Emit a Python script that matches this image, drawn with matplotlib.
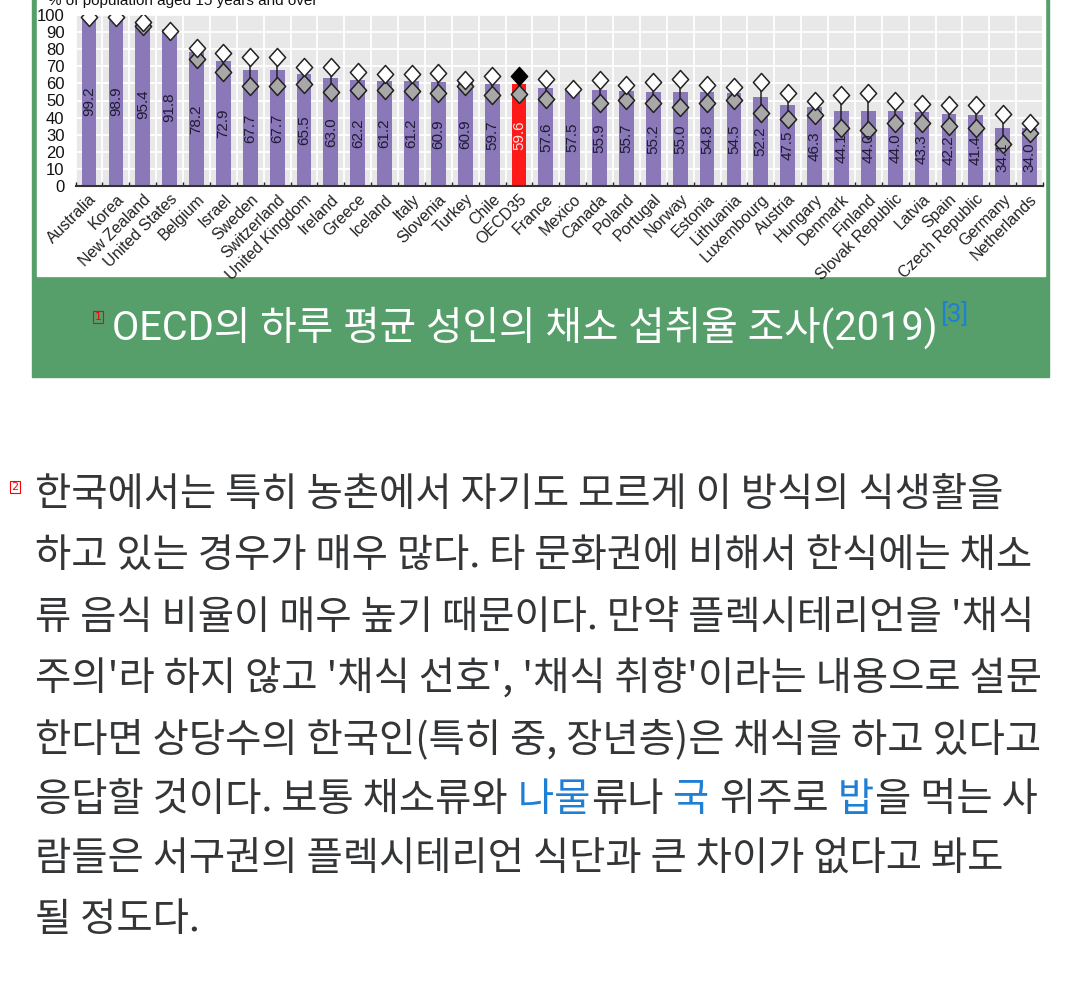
import numpy as np
import matplotlib
matplotlib.use('Agg')
import matplotlib.pyplot as plt
from matplotlib.patches import Rectangle
from matplotlib.path import Path

# data
countries = ['Australia', 'Korea', 'New Zealand', 'United States', 'Belgium', 'Israel',
             'Sweden', 'Switzerland', 'United Kingdom', 'Ireland', 'Greece', 'Iceland',
             'Italy', 'Slovenia', 'Turkey', 'Chile', 'OECD35', 'France', 'Mexico', 'Canada',
             'Poland', 'Portugal', 'Norway', 'Estonia', 'Lithuania', 'Luxembourg', 'Austria',
             'Hungary', 'Denmark', 'Finland', 'Slovak Republic', 'Latvia', 'Spain',
             'Czech Republic', 'Germany', 'Netherlands']
total = [99.2, 98.9, 95.4, 91.8, 78.2, 72.9, 67.7, 67.7, 65.5, 63.0, 62.2, 61.2,
         61.2, 60.9, 60.9, 59.7, 59.6, 57.6, 57.5, 55.9, 55.7, 55.2, 55.0, 54.8,
         54.5, 52.2, 47.5, 46.3, 44.1, 44.0, 44.0, 43.3, 42.2, 41.4, 34.1, 34.0]
upper = [98.8, 98.8, 96.0, 90.8, 80.9, 77.6, 75.2, 75.2, 69.4, 69.4, 66.9, 65.5,
         65.5, 66.0, 62.0, 64.5, 64.5, 62.6, 56.7, 62.0, 59.0, 60.6, 62.6, 59.0,
         57.7, 60.6, 54.2, 49.9, 53.2, 54.2, 49.9, 48.0, 47.4, 47.4, 42.1, 36.7]
lower = [np.nan, np.nan, 93.6, np.nan, 74.0, 66.9, 58.7, 58.7, 59.5, 55.2, 56.1, 56.1,
         55.7, 54.6, 58.5, 53.2, 53.6, 50.7, np.nan, 48.4, 50.3, 48.4, 46.0, 48.7,
         50.3, 42.5, 39.2, 41.5, 34.1, 32.7, 37.0, 36.6, 35.1, 33.7, 24.6, 30.8]
highlight = 'OECD35'

caption = 'OECD의 하루 평균 성인의 채소 섭취율 조사(2019)'
body_lines = [
    [('한국에서는 특히 농촌에서 자기도 모르게 이 방식의 식생활을', 'k')],
    [('하고 있는 경우가 매우 많다. 타 문화권에 비해서 한식에는 채소', 'k')],
    [("류 음식 비율이 매우 높기 때문이다. 만약 플렉시테리언을 '채식", 'k')],
    [("주의'라 하지 않고 '채식 선호', '채식 취향'이라는 내용으로 설문", 'k')],
    [('한다면 상당수의 한국인(특히 중, 장년층)은 채식을 하고 있다고', 'k')],
    [('응답할 것이다. 보통 채소류와', 'k'), (' 나물', 'b'), ('류나', 'k'), (' 국', 'b'),
     (' 위주로', 'k'), (' 밥', 'b'), ('을 먹는 사', 'k')],
    [('람들은 서구권의 플렉시테리언 식단과 큰 차이가 없다고 봐도', 'k')],
    [('될 정도다.', 'k')],
]

W, H = 1080, 982
GREEN = '#569e6a'
PURPLE = '#8b78b8'
TEXT = '#333537'
LINK = '#1f7fd4'


def fx(x):
    return x / W


def fy(y):
    return 1 - y / H


fig = plt.figure(figsize=(W / 100, H / 100), dpi=100)
fig.patch.set_facecolor('white')

# table cell: green frame, white chart area, green caption band
fig.add_artist(Rectangle((fx(32), fy(377)), (1049 - 32) / W, 377 / H,
                         transform=fig.transFigure, color=GREEN, zorder=-3))
fig.add_artist(Rectangle((fx(37), fy(276)), (1045 - 37) / W, 276 / H,
                         transform=fig.transFigure, color='white', zorder=-2))

# chart
ax = fig.add_axes([fx(75.6), fy(186), (1043 - 75.6) / W, (186 - 15) / H])
ax.set_facecolor('#e8e8e8')
x = np.arange(len(countries))
colors = ['#ff1a1a' if c == highlight else PURPLE for c in countries]
ax.bar(x, total, width=0.55, color=colors, zorder=2)

lo = np.array(lower)
up = np.array(upper)
has = ~np.isnan(lo)
ax.vlines(x[has], lo[has], up[has], color='#222222', lw=1.1, zorder=3)

diamond = Path([(0, 1), (0.9, 0), (0, -1), (-0.9, 0), (0, 1)],
               [Path.MOVETO, Path.LINETO, Path.LINETO, Path.LINETO, Path.CLOSEPOLY])
ax.plot(x, lo, ls='none', marker=diamond, ms=13, mfc='#a8a8a8', mec='#222222',
        mew=1.1, zorder=4)
is_hl = np.array([c == highlight for c in countries])
ax.plot(x[~is_hl], up[~is_hl], ls='none', marker=diamond, ms=13, mfc='white',
        mec='#222222', mew=1.1, zorder=5)
ax.plot(x[is_hl], up[is_hl], ls='none', marker=diamond, ms=13, mfc='black',
        mec='black', mew=1.1, zorder=5)

# value labels, rotated, in the middle of each bar
for i, v in enumerate(total):
    ax.text(i, v / 2, f'{v:.1f}', rotation=90, ha='center', va='center',
            fontsize=11, family='Liberation Sans',
            color='#ffe6e6' if countries[i] == highlight else '#1d1b35', zorder=6)

ax.set_xlim(-0.5, len(countries) - 0.5)
ax.set_ylim(0, 100)
ax.set_yticks(range(0, 101, 10))
ax.set_xticks(x)
ax.set_xticklabels(countries, rotation=45, ha='right', rotation_mode='anchor',
                   fontsize=11.5, family='Liberation Sans', color='#222222')
ax.set_xticks(np.arange(-0.5, len(countries), 1), minor=True)
for lab in ax.get_yticklabels():
    lab.set_family('Liberation Sans')
    lab.set_fontsize(12)
    lab.set_color('#111111')
ax.tick_params(axis='x', which='major', length=0, pad=4)
ax.tick_params(axis='x', which='minor', direction='in', length=3, width=1, color='#222222')
ax.tick_params(axis='y', length=0, pad=8)
ax.set_axisbelow(True)
ax.yaxis.grid(True, color='white', lw=1.3)
ax.xaxis.grid(True, which='minor', color='white', lw=1.3)
for s in ['top', 'right', 'left']:
    ax.spines[s].set_visible(False)
ax.spines['bottom'].set_color('#333333')
ax.spines['bottom'].set_linewidth(1.5)

# axis title, cut by the top edge as in the screenshot
fig.text(fx(48), fy(5.5), '% of population aged 15 years and over', fontsize=11,
         family='Liberation Sans', color='#111111', va='baseline')

renderer = fig.canvas.get_renderer()

# caption
cap = fig.text(fx(112), fy(328), caption, color='white', fontsize=28.6,
               family=['Roboto', 'Noto Sans CJK KR'], va='center')
cb = cap.get_window_extent(renderer)
fig.text((cb.x1 + 3) / W, fy(315), '[3]', color=LINK, fontsize=18.5,
         family=['Roboto', 'DejaVu Sans'], va='center')

box = dict(boxstyle='square,pad=0.12', fc='none', ec='red', lw=0.8)
fig.text(fx(98), fy(317), '1', fontsize=8, color='red', ha='center', va='center', bbox=box)
fig.text(fx(15), fy(487), '2', fontsize=8, color='red', ha='center', va='center', bbox=box)

# body text
line_y = [495, 557, 618, 679, 740, 800, 860, 920]
for y, runs in zip(line_y, body_lines):
    xpos = 35
    for s, c in runs:
        t = fig.text(fx(xpos), fy(y), s, fontsize=28.4, va='center',
                     family=['Noto Sans CJK KR', 'DejaVu Sans'],
                     color=LINK if c == 'b' else TEXT)
        xpos += t.get_window_extent(renderer).width + 1

fig.savefig('out.png', dpi=100, facecolor='white')
